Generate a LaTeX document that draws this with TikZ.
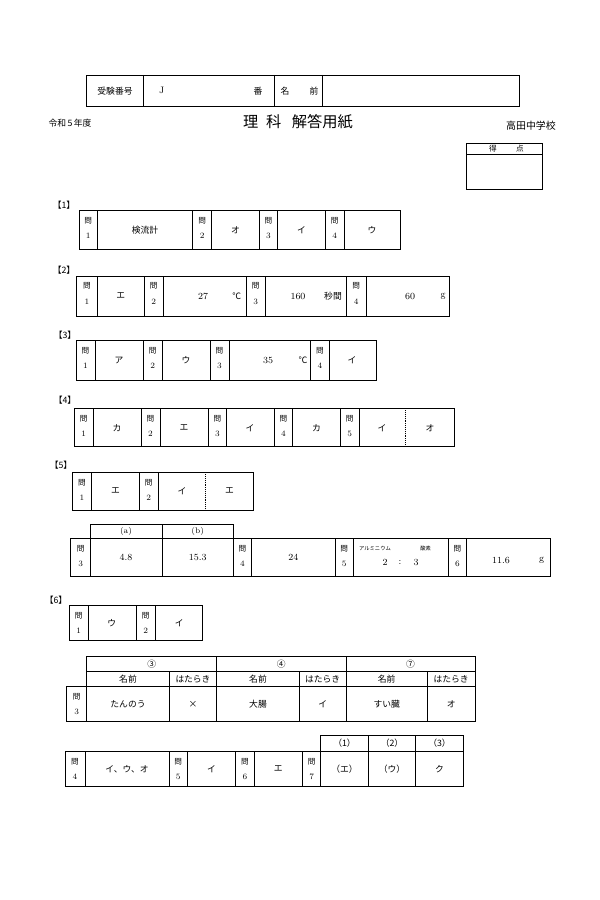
\documentclass[tikz,border=0pt]{standalone}
\usepackage{fontspec}
\newfontfamily\jp{Noto Sans CJK JP}
\tikzset{
  mon/.style={font=\jp\fontsize{6.5}{7}\selectfont,inner sep=0pt},
  ans/.style={font=\jp\fontsize{7.5}{9}\selectfont,inner sep=0pt},
  num/.style={font=\fontsize{8}{9}\selectfont,inner sep=0pt},
  sec/.style={font=\jp\fontsize{7.5}{9}\selectfont,inner sep=0pt},
}
% question cell: name, x centre, top of row, number
\newcommand\toi[4]{%
  \node[mon] (#1) at (#2,#3+10) {問};
  \node[num,font=\fontsize{7}{8}\selectfont] (#1n) at (#2,#3+25.5) {#4};}
\begin{document}
\begin{tikzpicture}[x=0.03cm,y=-0.03cm,line width=0.6pt]
\useasboundingbox (0,0) rectangle (600,900);
% head
\draw (86.7,75) rectangle (519,106.7);
\foreach \x in {143.3,274.3,322.7} \draw (\x,75)--(\x,106.7);
\node[ans] (juken) at (115,91) {受験番号};
\node[num] (jno) at (161.7,90) {J};
\node[ans] (ban) at (258,91) {番};
\node[ans] (na) at (285,91) {名};
\node[ans] (mae) at (314,91) {前};
\node[ans] (nendo) at (70,123) {令和\,5\,年度};
\node[inner sep=0pt,font=\jp\fontsize{13}{15}\selectfont] (title) at (298,122) {理\hspace{0.5em}科\hspace{0.7em}解答用紙};
\node[ans,font=\jp\fontsize{8.5}{10}\selectfont] (school) at (531,126) {高田中学校};
\draw (466.7,143.3) rectangle (542.7,189.3) (466.7,154)--(542.7,154);
\node[mon] (toku) at (493,149) {得};
\node[mon] (ten) at (520,149) {点};
% [1]
\node[sec] (s1) at (64,205) {【1】};
\draw (79,210.7) rectangle (400,249);
\foreach \x in {97.3,192.7,211.7,259.3,277.7,325.3,344} \draw (\x,210.7)--(\x,249);
\foreach \c/\n in {88.2/1,202.2/2,268.5/3,334.7/4} {\toi{a\n}{\c}{210.7}{\n}}
\node[ans] (a1x) at (145,230) {検流計};
\node[ans] (a2x) at (235.5,230) {オ};
\node[ans] (a3x) at (301.5,230) {イ};
\node[ans] (a4x) at (372,230) {ウ};
% [2]
\node[sec] (s2) at (64,270) {【2】};
\draw (76.7,276) rectangle (449.3,316);
\foreach \x in {97.3,144.3,163.3,246,265.7,346.7,366} \draw (\x,276)--(\x,316);
\foreach \c/\n in {87/1,153.8/2,255.8/3,356.3/4} {\toi{b\n}{\c}{276}{\n}}
\node[ans] (b1x) at (120.8,296) {エ};
\node[num] (b2x) at (203,296) {27};
\node[ans] (b2u) at (236.7,296) {℃};
\node[num] (b3x) at (298,296) {160};
\node[ans] (b3u) at (333,296) {秒間};
\node[num] (b4x) at (410,296) {60};
\node[num] (b4u) at (443,296) {g};
% [3]
\node[sec] (s3) at (65,335) {【3】};
\draw (76,340.7) rectangle (376.7,380);
\foreach \x in {95,143.3,162.3,210,229,310.7,329.3} \draw (\x,340.7)--(\x,380);
\foreach \c/\n in {85.5/1,152.8/2,219.5/3,320/4} {\toi{c\n}{\c}{340.7}{\n}}
\node[ans] (c1x) at (119,360) {ア};
\node[ans] (c2x) at (186,360) {ウ};
\node[num] (c3x) at (268,360) {35};
\node[ans] (c3u) at (303,360) {℃};
\node[ans] (c4x) at (352,360) {イ};
% [4]
\node[sec] (s4) at (65,400) {【4】};
\draw (74.3,408.3) rectangle (454.3,446.7);
\foreach \x in {93.3,141,160,208.3,226.7,274.3,292.7,340.7,359} \draw (\x,408.3)--(\x,446.7);
\draw[densely dotted] (405.7,408.3)--(405.7,446.7);
\foreach \c/\n in {83.8/1,150.5/2,217.5/3,283.5/4,349.8/5} {\toi{d\n}{\c}{408.3}{\n}}
\node[ans] (d1x) at (117,428) {カ};
\node[ans] (d2x) at (184,428) {エ};
\node[ans] (d3x) at (250,428) {イ};
\node[ans] (d4x) at (316.5,428) {カ};
\node[ans] (d5x) at (382,428) {イ};
\node[ans] (d5y) at (430,428) {オ};
% [5]
\node[sec] (s5) at (61,465) {【5】};
\draw (72.3,472.3) rectangle (253.3,510);
\foreach \x in {91.7,139.3,158.3} \draw (\x,472.3)--(\x,510);
\draw[densely dotted] (205.7,472.3)--(205.7,510);
\foreach \c/\n in {82/1,148.8/2} {\toi{e\n}{\c}{472.3}{\n}}
\node[ans] (e1x) at (115.5,491) {エ};
\node[ans] (e2x) at (182,491) {イ};
\node[ans] (e2y) at (229.5,491) {エ};
\draw (90.7,524) rectangle (233.3,538.3) (162.3,524)--(162.3,538.3);
\draw (70.7,538.3) rectangle (550,576);
\foreach \x in {90.7,162.3,233.3,251.7,335,353.3,448.3,466.7} \draw (\x,538.3)--(\x,576);
\foreach \c/\n in {80.7/3,242.5/4,344.2/5,457.5/6} {\toi{e\n}{\c}{538.3}{\n}}
\node[num,font=\fontsize{7}{8}\selectfont] (ea) at (126,531) {(a)};
\node[num,font=\fontsize{7}{8}\selectfont] (eb) at (197.7,531) {(b)};
\node[num] (e3a) at (126,557) {4.8};
\node[num] (e3b) at (197.7,557) {15.3};
\node[num] (e4x) at (293.3,557) {24};
\node[mon,font=\jp\fontsize{4.5}{5}\selectfont] (alu) at (375,548) {アルミニウム};
\node[mon,font=\jp\fontsize{4.5}{5}\selectfont] (sanso) at (425.7,548) {酸素};
\node[num] (e5a) at (385,562) {2};
\node[num] (e5c) at (400,562) {:};
\node[num] (e5b) at (416,562) {3};
\node[num] (e6x) at (501,560) {11.6};
\node[num] (e6u) at (541.7,560) {g};
% [6]
\node[sec] (s6) at (56,600) {【6】};
\draw (69.3,605.7) rectangle (202.7,640);
\foreach \x in {88.3,136.7,155} \draw (\x,605.7)--(\x,640);
\foreach \c/\n in {78.8/1,145.8/2} {\toi{f\n}{\c}{605.7}{\n}}
\node[ans] (f1x) at (111.7,623) {ウ};
\node[ans] (f2x) at (179.3,623) {イ};
\draw (86.7,656.7) rectangle (475,721) (86.7,671)--(475,671) (66.7,686.7) rectangle (475,721);
\foreach \x in {216.7,346} \draw (\x,656.7)--(\x,721);
\foreach \x in {169.3,299,427.3} \draw (\x,671)--(\x,721);
\toi{f3}{76.7}{686.7}{3}
\foreach \c/\t [count=\i] in {151.7/③,281.3/④,410.5/⑦} \node[ans] (org\i) at (\c,664) {\t};
\foreach \c [count=\i] in {128,258,386.7} \node[ans] (nm\i) at (\c,679) {名前};
\foreach \c [count=\i] in {193,322.7,451.2} \node[ans] (ht\i) at (\c,679) {はたらき};
\node[ans] (f3a) at (128,704) {たんのう};
\node[ans] (f3b) at (193,704) {×};
\node[ans] (f3c) at (258,704) {大腸};
\node[ans] (f3d) at (322.7,704) {イ};
\node[ans] (f3e) at (386.7,704) {すい臓};
\node[ans] (f3f) at (451.2,704) {オ};
\draw (320.7,735) rectangle (463.3,751.7);
\draw (65,751.7) rectangle (463.3,786.7);
\foreach \x in {85,169,187.3,235.7,254.3,302.7,320.7} \draw (\x,751.7)--(\x,786.7);
\foreach \x in {368.3,415.7} \draw (\x,735)--(\x,786.7);
\foreach \c/\n in {75/4,178.2/5,245/6,311.7/7} {\toi{f\n}{\c}{751.7}{\n}}
\foreach \c [count=\i] in {344.5,392,439.5} \node[ans] (f7h\i) at (\c,743) {（\i）};
\node[ans] (f4x) at (127,769) {イ、ウ、オ};
\node[ans] (f5x) at (211.5,769) {イ};
\node[ans] (f6x) at (278.3,769) {エ};
\node[ans] (f7a) at (344.5,769) {（エ）};
\node[ans] (f7b) at (392,769) {（ウ）};
\node[ans] (f7c) at (439.5,769) {ク};
\end{tikzpicture}
\end{document}
